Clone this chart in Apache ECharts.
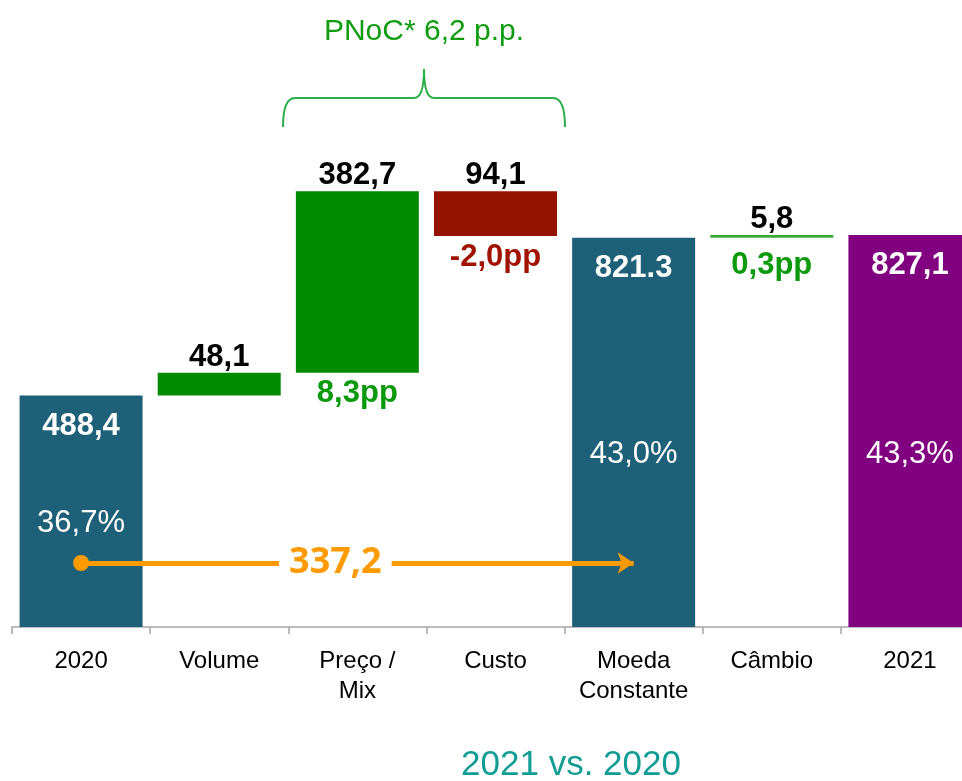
<!DOCTYPE html>
<html>
<head>
<meta charset="utf-8">
<title>Ponte 2020 - 2021</title>
<script src="https://cdn.jsdelivr.net/npm/echarts@6/dist/echarts.min.js"></script>
<style>
  html, body { margin: 0; padding: 0; background: #fff; }
  #main { width: 962px; height: 781px; }
</style>
</head>
<body>
<div id="main"></div>
<script>
  // dados do gráfico
  const categories = ['2020', 'Volume', 'Preço /\nMix', 'Custo', 'Moeda\nConstante', 'Câmbio', '2021']
  const values = [488.4, 48.1, 382.7, -94.1, 821.3, 5.8, 827.1]
  const isTotal = [true, false, false, false, true, false, true]
  const valueLabels = ['488,4', '48,1', '382,7', '94,1', '821.3', '5,8', '827,1']
  const marginLabels = ['36,7%', '', '8,3pp', '-2,0pp', '43,0%', '0,3pp', '43,3%']
  const bridgeLabel = '337,2'
  const pnocLabel = 'PNoC* 6,2 p.p.'
  const periodLabel = '2021 vs. 2020'

  // cores
  const barColors = ['#1d6078', '#008a00', '#008a00', '#941200', '#1d6078', '#3aab3a', '#800080']
  const FONT = '"Liberation Sans", Arial, sans-serif'
  const BRACE = { stroke: '#2aae48', lineWidth: 2, fill: 'none' }

  // base invisível + altura de cada degrau
  let running = 0
  const base = []
  const heights = []
  values.forEach((v, i) => {
    if (isTotal[i]) {
      base.push(0); heights.push(v); running = v
    } else if (v >= 0) {
      base.push(running); heights.push(v); running += v
    } else {
      running += v; base.push(running); heights.push(-v)
    }
  })

  // altura (eixo y) onde ficam os percentuais dentro das barras de total
  const pctAnchor = { 0: 219, 4: 363, 6: 363 }
  const ppDistance = { 2: 5, 3: 6, 5: 12 }

  const chart = echarts.init(document.getElementById('main'), null, { renderer: 'canvas' })

  chart.setOption({
    animation: false,
    // a última categoria fica cortada na borda direita, como no original
    grid: { left: 12, width: 967, top: 153, bottom: 154, outerBoundsMode: 'none', containLabel: false },
    xAxis: {
      type: 'category',
      data: categories,
      axisLine: { lineStyle: { color: '#a6a6a6', width: 1.5 } },
      axisTick: { show: true, length: 7, lineStyle: { color: '#a6a6a6', width: 1.5 } },
      axisLabel: {
        interval: 0, margin: 19, color: '#000', fontSize: 24,
        fontFamily: FONT, lineHeight: 30
      }
    },
    yAxis: { type: 'value', min: 0, max: 1000, show: false },
    series: [
      {
        name: 'base',
        type: 'bar',
        stack: 'w',
        barWidth: 123,
        itemStyle: { color: 'transparent' },
        data: base.map((b, i) => ({
          value: b,
          label: isTotal[i] || !marginLabels[i] ? { show: false } : {
            show: true,
            position: 'insideTop',
            distance: ppDistance[i],
            formatter: marginLabels[i],
            color: values[i] < 0 ? '#a01300' : '#0b9a0b',
            fontSize: 31, fontWeight: 'bold', fontFamily: FONT
          }
        }))
      },
      {
        name: 'valor',
        type: 'bar',
        stack: 'w',
        barWidth: 123,
        data: heights.map((h, i) => ({
          value: h,
          itemStyle: { color: barColors[i] },
          label: {
            show: true,
            position: isTotal[i] ? 'insideTop' : 'top',
            distance: isTotal[i] ? 15 : 0,
            formatter: valueLabels[i],
            color: isTotal[i] ? '#fff' : '#000',
            fontSize: 31, fontWeight: 'bold', fontFamily: FONT, lineHeight: 31
          }
        })),
        markPoint: {
          symbol: 'circle',
          symbolSize: 1,
          itemStyle: { color: 'transparent' },
          label: {
            show: true, position: 'inside', formatter: '{c}',
            color: '#fff', fontSize: 31, fontFamily: FONT
          },
          data: isTotal.map((t, i) => t ? { coord: [i, pctAnchor[i]], value: marginLabels[i] } : null)
            .filter(d => d)
        },
        markLine: {
          silent: true,
          symbol: ['circle', 'arrow'],
          symbolSize: [16, 16],
          lineStyle: { color: '#ff9a00', width: 5, type: 'solid' },
          label: {
            show: true,
            position: 'middle',
            distance: 0,
            verticalAlign: 'middle',
            offset: [-22, 0],
            formatter: bridgeLabel,
            color: '#ff9a00',
            fontSize: 36, fontWeight: 'bold', fontFamily: '"Open Sans", sans-serif',
            backgroundColor: '#fff',
            padding: [0, 10]
          },
          data: [[{ coord: [0, 135] }, { coord: [4, 135] }]]
        }
      }
    ],
    graphic: [
      {
        type: 'text',
        x: 424, y: 32,
        style: { text: pnocLabel, fill: '#109c10', font: '30px ' + FONT, textAlign: 'center', textVerticalAlign: 'middle' }
      },
      { type: 'bezierCurve', shape: { x1: 283, y1: 127, x2: 295, y2: 98, cpx1: 283, cpy1: 98 }, style: BRACE },
      { type: 'line', shape: { x1: 295, y1: 98, x2: 414, y2: 98 }, style: BRACE },
      { type: 'bezierCurve', shape: { x1: 414, y1: 98, x2: 424, y2: 69, cpx1: 424, cpy1: 98 }, style: BRACE },
      { type: 'bezierCurve', shape: { x1: 424, y1: 69, x2: 434, y2: 98, cpx1: 424, cpy1: 98 }, style: BRACE },
      { type: 'line', shape: { x1: 434, y1: 98, x2: 553, y2: 98 }, style: BRACE },
      { type: 'bezierCurve', shape: { x1: 553, y1: 98, x2: 565, y2: 127, cpx1: 565, cpy1: 98 }, style: BRACE },
      {
        type: 'text',
        x: 571, y: 765,
        style: { text: periodLabel, fill: '#129d94', font: '35px ' + FONT, textAlign: 'center', textVerticalAlign: 'middle' }
      }
    ]
  })
</script>
</body>
</html>
